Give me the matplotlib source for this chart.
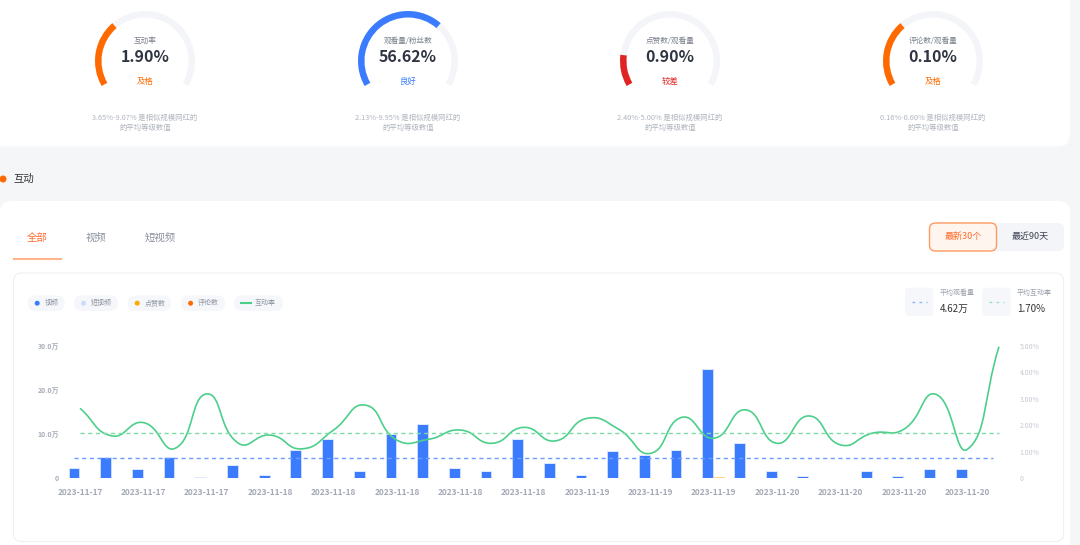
import matplotlib
matplotlib.use('Agg')
import matplotlib.pyplot as plt
from matplotlib.patches import FancyBboxPatch, Wedge, Circle
from matplotlib.path import Path
from matplotlib.patches import PathPatch

plt.rcParams['font.family'] = ['Noto Sans CJK SC', 'DejaVu Sans']

# gauge cards
gauge_titles = ['互动率', '观看量/粉丝数', '点赞数/观看量', '评论数/观看量']
gauge_values = ['1.90%', '56.62%', '0.90%', '0.10%']
gauge_grades = ['及格', '良好', '较差', '及格']
gauge_fill = [0.33, 0.67, 0.155, 0.33]
gauge_ranges = ['3.65%-9.07%', '2.13%-9.95%', '2.40%-5.00%', '0.16%-0.60%']

# chart data
dates = ['2023-11-17'] * 6 + ['2023-11-18'] * 10 + ['2023-11-19'] * 6 + ['2023-11-20'] * 8
video_views = [2.4, 4.9, 2.0, 4.8, 0.2, 2.9, 0.7, 6.4, 8.9, 1.7, 10.0, 12.3, 2.3, 1.7, 8.9,
               3.5, 0.8, 6.1, 5.3, 6.4, 24.7, 7.9, 1.7, 0.6, 0.0, 1.7, 0.45, 2.2, 2.0, 0.0]
short_views = [0] * 24 + [0.15, 0, 0, 0, 0, 0.15]
likes = [0.02, 0.05, 0.02, 0.04, 0.0, 0.03, 0.01, 0.06, 0.12, 0.02, 0.08, 0.10, 0.02, 0.01, 0.08,
         0.04, 0.01, 0.05, 0.04, 0.07, 0.22, 0.09, 0.01, 0.0, 0.0, 0.01, 0.01, 0.02, 0.01, 0.0]
comments = [0.005] * 30
rate = [2.64, 1.60, 2.10, 1.13, 3.18, 1.32, 1.63, 1.11, 1.82, 2.76, 1.44, 1.47, 1.82, 1.32, 1.92,
        1.41, 2.26, 1.85, 0.94, 2.30, 1.51, 2.58, 1.32, 2.35, 1.26, 1.70, 1.85, 3.17, 1.09, 4.96]
avg_views = 4.62
avg_rate = 1.70

BLUE = '#3b7cff'
LIGHT_BLUE = '#c9dcff'
ORANGE = '#ffa800'
RED_ORANGE = '#ff6a00'
GREEN = '#4ccf8a'

fig = plt.figure(figsize=(10.8, 5.45), dpi=100)
fig.patch.set_facecolor('#f5f6f8')

bg = fig.add_axes([0, 0, 1, 1])
bg.set_xlim(0, 1080)
bg.set_ylim(545, 0)
bg.axis('off')


def card(x, y, w, h, r, fc='white', ec='none', lw=0):
    bg.add_patch(FancyBboxPatch((x, y), w, h, boxstyle=f'round,pad=0,rounding_size={r}',
                                fc=fc, ec=ec, lw=lw))


# top card with gauges
card(-20, -20, 1090, 166.5, 12)
centers = [145, 408, 670, 933]
grade_colors = {'及格': RED_ORANGE, '良好': BLUE, '较差': '#e02424'}
arc_colors = [RED_ORANGE, BLUE, '#e02424', RED_ORANGE]
cy = 61
for i, cx in enumerate(centers):
    # y axis is inverted, so angles are mirrored
    bg.add_patch(Wedge((cx, cy), 50, -210, 30, width=6.5, fc='#f3f5f8', ec='none'))
    bg.add_patch(Wedge((cx, cy), 50, -210, -210 + 240 * gauge_fill[i], width=6.5,
                       fc=arc_colors[i], ec='none'))
    bg.text(cx, 41, gauge_titles[i], ha='center', va='center', fontsize=5.5, color='#7a808c')
    bg.text(cx, 57.5, gauge_values[i], ha='center', va='center', fontsize=11.5,
            fontweight='bold', color='#2f3542')
    bg.text(cx, 81, gauge_grades[i], ha='center', va='center', fontsize=6,
            color=grade_colors[gauge_grades[i]])
    bg.text(cx, 118, gauge_ranges[i] + ' 是相似规模网红的', ha='center', va='center',
            fontsize=5.3, color='#b0b5be')
    bg.text(cx, 128, '的平均等级数值', ha='center', va='center', fontsize=5.3, color='#b0b5be')

# section title
bg.add_patch(Circle((3, 179), 3.5, fc=RED_ORANGE, ec='none'))
bg.text(13, 179, '互动', ha='left', va='center', fontsize=7.5, color='#333333')

# main card
card(0, 201, 1070, 380, 12)
bg.text(37, 238, '全部', ha='center', va='center', fontsize=7.5, color='#ff6d33')
bg.text(96, 238, '视频', ha='center', va='center', fontsize=7.5, color='#8c92a0')
bg.text(160, 238, '短视频', ha='center', va='center', fontsize=7.5, color='#8c92a0')
bg.plot([13, 62], [258.5, 258.5], color='#ffb48c', lw=1.5, solid_capstyle='butt')

card(990, 223, 74, 28, 6, fc='#f3f5f8')
card(929.5, 223, 67, 28, 6, fc='#fff5ef', ec='#ff9a5e', lw=1)
bg.text(963, 237, '最新30个', ha='center', va='center', fontsize=6.5, color='#ff6a2a')
bg.text(1030, 237, '最近90天', ha='center', va='center', fontsize=6.5, color='#3e4450')

# inner chart card
card(13.5, 273, 1050, 268.5, 8, fc='white', ec='#eef0f3', lw=0.8)

# legend pills
pills = [(27.6, 64.8), (74, 118), (127.6, 171), (181, 225), (234, 283)]
legend_names = ['视频', '短视频', '点赞数', '评论数', '互动率']
legend_colors = [BLUE, LIGHT_BLUE, ORANGE, RED_ORANGE, GREEN]
for (x0, x1), name, col in zip(pills, legend_names, legend_colors):
    card(x0, 295.5, x1 - x0, 15.5, 7.7, fc='#f5f7fa')
    if name == '互动率':
        bg.plot([x0 + 7, x0 + 16.5], [303.2, 303.2], color=col, lw=1.5)
        tx = x0 + 21
    else:
        bg.add_patch(Circle((x0 + 9.6, 303.2), 2.5, fc=col, ec='none'))
        tx = x0 + 17
    bg.text(tx, 303.2, name, ha='left', va='center', fontsize=5, color='#9197a3')

# average boxes
avg_boxes = [(905, '平均观看量', f'{avg_views:.2f}万', '#8fb3ff'),
             (982.3, '平均互动率', f'{avg_rate:.2f}%', '#9be3bf')]
for x0, label, val, col in avg_boxes:
    card(x0, 287.7, 28.3, 28.3, 4, fc='#f5f7fa')
    bg.plot([x0 + 7, x0 + 22], [301.8, 301.8], color=col, lw=1, dashes=(2, 3))
    bg.text(x0 + 34.5, 293, label, ha='left', va='center', fontsize=5, color='#9aa0aa')
    bg.text(x0 + 34.5, 309, val, ha='left', va='center', fontsize=7, color='#333333')

# chart axes
L, R, T, B = 64.2, 1014.8, 345.7, 478.3
ax = fig.add_axes([L / 1080, (545 - B) / 545, (R - L) / 1080, (B - T) / 545])
ax.set_facecolor('none')
ax.set_xlim(-0.5, 29.5)
ax.set_ylim(0, 30)
for s in ax.spines.values():
    s.set_visible(False)

n = len(video_views)
xs = list(range(n))
bw = 0.34
off = 0.19
left_x = [x - off for x in xs]
right_x = [x + off for x in xs]
ax.bar(left_x, video_views, width=bw, color=BLUE, edgecolor='#d3e0ff', linewidth=0.6)
ax.bar(left_x, short_views, width=bw, bottom=video_views, color=LIGHT_BLUE,
       edgecolor='#e3ecff', linewidth=0.6)
ax.bar(right_x, likes, width=bw, color=ORANGE, alpha=0.5)
ax.bar(right_x, comments, width=bw, bottom=likes, color=RED_ORANGE, alpha=0.5)
ax.plot([left_x[0], left_x[-1]], [avg_views, avg_views], color='#6a9cff', lw=1, dashes=(3, 2.5))

ax.set_xticks(xs[::2])
ax.set_xticklabels(dates[::2], fontsize=6, color='#a3a9b6', fontweight='bold')
ax.set_yticks([0, 10, 20, 30])
ax.set_yticklabels(['0', '10.0万', '20.0万', '30.0万'], fontsize=5, color='#a8aeba',
                   fontweight='bold')
ax.tick_params(axis='x', length=0, pad=7)
ax.tick_params(axis='y', length=0, pad=3.6)

ax2 = ax.twinx()
ax2.set_ylim(0, 5)
ax2.set_facecolor('none')
for s in ax2.spines.values():
    s.set_visible(False)
ax2.set_yticks([0, 1, 2, 3, 4, 5])
ax2.set_yticklabels(['0', '1.00%', '2.00%', '3.00%', '4.00%', '5.00%'], fontsize=5,
                    color='#c5c9d1')
ax2.tick_params(axis='y', length=0, pad=3.6)

# smooth curve like the echarts line (bezier through the points)
sx = (R - L) / 30
sy = (B - T) / 5
P = [(x * sx, y * sy) for x, y in zip(xs, rate)]
sm = 0.5
cps = []
for i in range(n):
    px, py = P[i]
    ax_, ay_ = P[i - 1] if i > 0 else P[i]
    bx_, by_ = P[i + 1] if i < n - 1 else P[i]
    vx, vy = bx_ - ax_, by_ - ay_
    d0 = ((px - ax_) ** 2 + (py - ay_) ** 2) ** 0.5
    d1 = ((px - bx_) ** 2 + (py - by_) ** 2) ** 0.5
    tot = d0 + d1
    if tot:
        d0 /= tot
        d1 /= tot
    cps.append(((px - vx * sm * d0, py - vy * sm * d0), (px + vx * sm * d1, py + vy * sm * d1)))
verts = [P[0]]
codes = [Path.MOVETO]
for i in range(n - 1):
    verts += [cps[i][1], cps[i + 1][0], P[i + 1]]
    codes += [Path.CURVE4] * 3
verts = [(x / sx, y / sy) for x, y in verts]
ax2.add_patch(PathPatch(Path(verts, codes), fc='none', ec=GREEN, lw=1.2))
ax2.plot([0, n - 1], [avg_rate, avg_rate], color='#7ddba6', lw=1, dashes=(3, 2.5))

fig.savefig('out.png', dpi=100, facecolor=fig.get_facecolor())
